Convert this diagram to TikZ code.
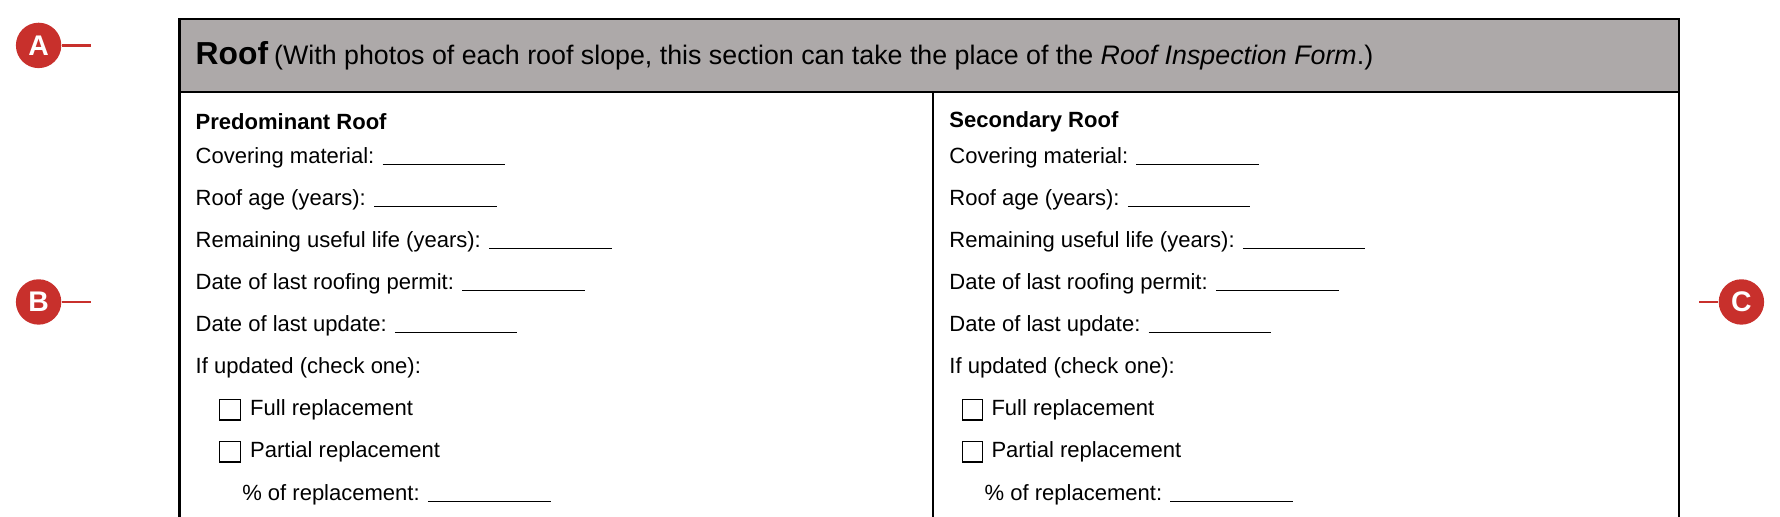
\documentclass[tikz,border=0pt]{standalone}
\usepackage{fontspec}
\setmainfont{Liberation Sans}
\usetikzlibrary{positioning}
\definecolor{markred}{HTML}{C8302C}
\definecolor{headgray}{HTML}{ADA9A9}
\tikzset{
    every node/.style={font=\fontsize{9.7}{11}\selectfont, inner sep=0pt},
    field/.style={anchor=west},
    marker/.style={circle, fill=markred, minimum size=20pt, text=white, font=\fontsize{12.5}{13}\selectfont\bfseries},
    tick/.style={draw=markred, line width=1pt},
    checkbox/.style={draw, line width=0.6pt, minimum size=9pt, anchor=west},
}
\newcommand{\blank}{\rule[-0.6pt]{54pt}{0.5pt}}

\begin{document}
\begin{tikzpicture}[x=0.5pt, y=-0.5pt]
   \useasboundingbox (0,0) rectangle (1568,455);
   \begin{scope}
   \clip (0,0) rectangle (1568,455);
   % form frame and header
   \fill[headgray] (158,17) rectangle (1479,81);
   \draw[line width=1pt] (158,470) -- (158,17) -- (1479,17) -- (1479,470);
   \draw[line width=1pt] (158,81) -- (1479,81);
   \draw[line width=1pt] (822,81) -- (822,470);
   \end{scope}
   \node[field] (title) at (172,49) {{\fontsize{14}{15}\selectfont\bfseries Roof} {\fontsize{11.8}{13}\selectfont (With photos of each roof slope, this section can take the place of the \textit{Roof Inspection Form}.)}};
% left column
   \node[field, font=\fontsize{9.7}{11}\selectfont\bfseries] (pr) at (172,107) {Predominant Roof};
   \node[field] (l1) at (172,139) {Covering material: \blank};
   \node[field] (l2) at (172,176) {Roof age (years): \blank};
   \node[field] (l3) at (172,213) {Remaining useful life (years): \blank};
   \node[field] (l4) at (172,250) {Date of last roofing permit: \blank};
   \node[field] (l5) at (172,287) {Date of last update: \blank};
   \node[field] (l6) at (172,324) {If updated (check one):};
   \node[checkbox] (lb1) at (193,361) {};
   \node[field] (l7) at (220,361) {Full replacement};
   \node[checkbox] (lb2) at (193,398) {};
   \node[field] (l8) at (220,398) {Partial replacement};
   \node[field] (l9) at (213,436) {\% of replacement: \blank};
% right column
   \node[field, font=\fontsize{9.7}{11}\selectfont\bfseries] (sr) at (836,107) {Secondary Roof};
   \node[field] (r1) at (836,139) {Covering material: \blank};
   \node[field] (r2) at (836,176) {Roof age (years): \blank};
   \node[field] (r3) at (836,213) {Remaining useful life (years): \blank};
   \node[field] (r4) at (836,250) {Date of last roofing permit: \blank};
   \node[field] (r5) at (836,287) {Date of last update: \blank};
   \node[field] (r6) at (836,324) {If updated (check one):};
   \node[checkbox] (rb1) at (847,361) {};
   \node[field] (r7) at (873,361) {Full replacement};
   \node[checkbox] (rb2) at (847,398) {};
   \node[field] (r8) at (873,398) {Partial replacement};
   \node[field] (r9) at (867,436) {\% of replacement: \blank};
% markers
   \node[marker] (A) at (34,40) {A};
   \node[marker] (B) at (34,266) {B};
   \node[marker] (C) at (1534,266) {C};
   \coordinate (Aend) at (80,40);
   \coordinate (Bend) at (80,266);
   \coordinate (Cend) at (1497,266);
   \draw[tick] (A.east) -- (Aend);
   \draw[tick] (B.east) -- (Bend);
   \draw[tick] (C.west) -- (Cend);
\end{tikzpicture}
\end{document}
